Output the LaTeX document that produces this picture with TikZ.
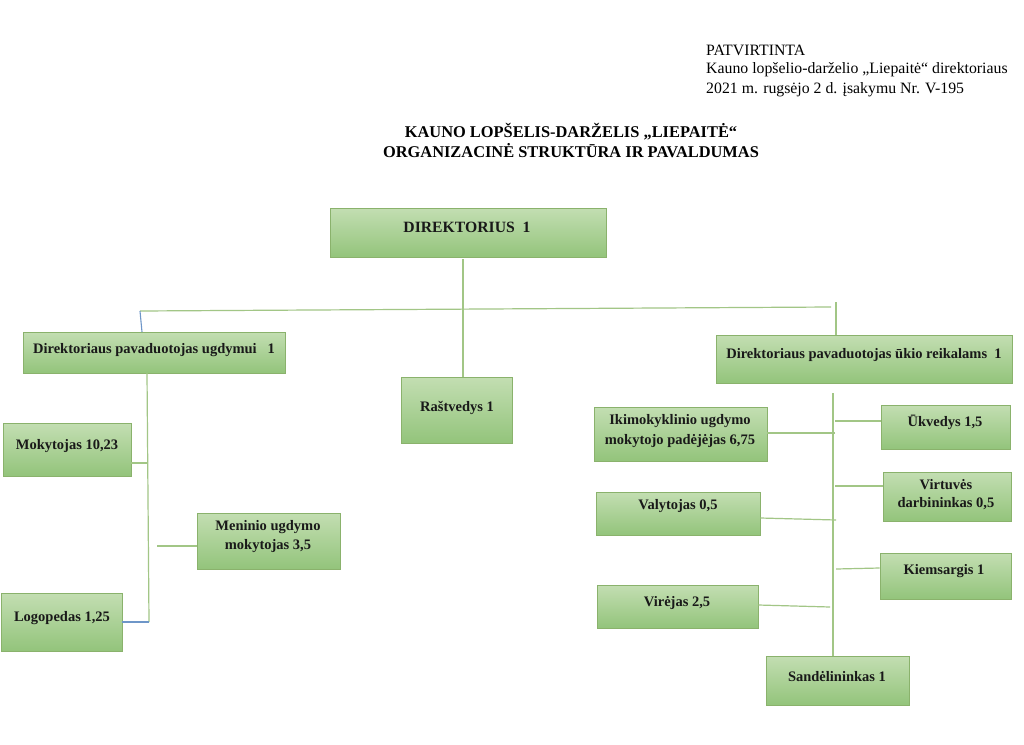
\documentclass[tikz,border=0pt]{standalone}
\usepackage{fontspec}
\setmainfont{Liberation Serif}
\begin{document}
\begin{tikzpicture}[x=1pt,y=-1pt,
  box/.style={draw=boxborder, line width=0.9pt, top color=boxtop, bottom color=boxbot, inner sep=0pt},
  lbl/.style={font=\bfseries\fontsize{14.5}{17}\selectfont, align=center, inner sep=0pt, text=black!90},
  ln/.style={draw=linegreen, line width=1.2pt},
  lnb/.style={draw=lineblue, line width=1.1pt},
  hdr/.style={font=\fontsize{15.8}{20}\selectfont, align=left, inner sep=0pt, anchor=west}]
\definecolor{boxtop}{RGB}{195,222,178}
\definecolor{boxbot}{RGB}{147,196,123}
\definecolor{boxborder}{RGB}{138,178,108}
\definecolor{linegreen}{RGB}{162,198,134}
\definecolor{lineblue}{RGB}{110,150,200}
\useasboundingbox (0,0) rectangle (1024,744);
\fill[white] (0,0) rectangle (1024,744);
% header
\node[hdr] (h1) at (706,50) {PATVIRTINTA};
\node[hdr] (h2) at (706,70) {Kauno lopšelio-darželio „Liepaitė“ direktoriaus};
\node[hdr] (h3) at (706,90) {2021 m. rugsėjo 2 d. įsakymu Nr. V-195};
\node[font=\bfseries\fontsize{16.4}{20}\selectfont, align=center, inner sep=0pt] (title) at (571,141) {KAUNO LOPŠELIS-DARŽELIS „LIEPAITĖ“\\ORGANIZACINĖ STRUKTŪRA IR PAVALDUMAS};
% boxes
\newcommand{\bx}[5]{\node[box, minimum width={#4-#2}, minimum height={#5-#3}] (#1) at ({(#2+#4)/2},{(#3+#5)/2}) {};}
\bx{dir}{330}{208}{606}{257}
\bx{dug}{23}{332}{285}{373}
\bx{rast}{401}{377}{512}{443}
\bx{duk}{716}{335}{1012}{383}
\bx{mok}{3}{423}{131}{476}
\bx{men}{197}{513}{340}{569}
\bx{log}{1}{593}{122}{651}
\bx{iki}{594}{407}{767}{461}
\bx{ukv}{881}{405}{1010}{449}
\bx{virt}{883}{472}{1011}{521}
\bx{val}{596}{492}{760}{535}
\bx{kiem}{880}{553}{1011}{599}
\bx{vir}{597}{585}{758}{628}
\bx{sand}{766}{656}{909}{705}
% labels
\node[lbl, font=\bfseries\fontsize{15.7}{18}\selectfont] (tdir) at (467,227) {DIREKTORIUS\ \ 1};
\node[lbl] (tdug) at (154,350) {Direktoriaus pavaduotojas ugdymui\ \ \ 1};
\node[lbl] (trast) at (457,408) {Raštvedys 1};
\node[lbl] (tduk) at (864,355) {Direktoriaus pavaduotojas ūkio reikalams\ \ 1};
\node[lbl] (tmok) at (67,446) {Mokytojas 10,23};
\node[lbl, font=\bfseries\fontsize{14.5}{19}\selectfont] (tmen) at (268,537) {Meninio ugdymo\\mokytojas 3,5};
\node[lbl] (tlog) at (62,618) {Logopedas 1,25};
\node[lbl, font=\bfseries\fontsize{14.5}{20}\selectfont] (tiki) at (680,431) {Ikimokyklinio ugdymo\\mokytojo padėjėjas 6,75};
\node[lbl] (tukv) at (945,422) {Ūkvedys 1,5};
\node[lbl, font=\bfseries\fontsize{14.5}{18}\selectfont] (tvirt) at (946,495) {Virtuvės\\darbininkas 0,5};
\node[lbl] (tval) at (678,506) {Valytojas 0,5};
\node[lbl] (tkiem) at (944,571) {Kiemsargis 1};
\node[lbl] (tvir) at (677,603) {Virėjas 2,5};
\node[lbl] (tsand) at (837,677) {Sandėlininkas 1};
% connectors
\coordinate (d1) at (463,259);
\draw[ln] (d1) -- (d1 |- rast.north);
\coordinate (hl) at (140,311);
\coordinate (hr) at (831,307);
\draw[ln] (hl) -- (hr);
\draw[lnb] (hl) -- (142,332) coordinate (dugtop);
\coordinate (r1) at (836,302);
\draw[ln] (r1) -- (r1 |- duk.north);
% left trunk
\coordinate (lt1) at (147,373);
\coordinate (lt2) at (149,622);
\draw[ln] (lt1) -- (lt2);
\draw[lnb] (lt2) -- (lt2 -| log.east);
\coordinate (m1) at (147,463);
\draw[ln] (m1) -- (m1 -| mok.east);
\coordinate (m2) at (157,546);
\draw[ln] (m2) -- (m2 -| men.west);
% right trunk
\coordinate (rt1) at (833,393);
\draw[ln] (rt1) -- (rt1 |- sand.north);
\coordinate (c1) at (835,433);
\draw[ln] (c1) -- (c1 -| iki.east);
\coordinate (c2) at (835,421);
\draw[ln] (c2) -- (c2 -| ukv.west);
\coordinate (c3) at (835,486);
\draw[ln] (c3) -- (c3 -| virt.west);
\coordinate (c4) at (836,520);
\draw[ln] (c4) -- ([yshift=2pt]c4 -| val.east);
\coordinate (c5) at (836,569);
\draw[ln] (c5) -- ([yshift=1pt]c5 -| kiem.west);
\coordinate (c6) at (830,607);
\draw[ln] (c6) -- ([yshift=2pt]c6 -| vir.east);
\end{tikzpicture}
\end{document}
